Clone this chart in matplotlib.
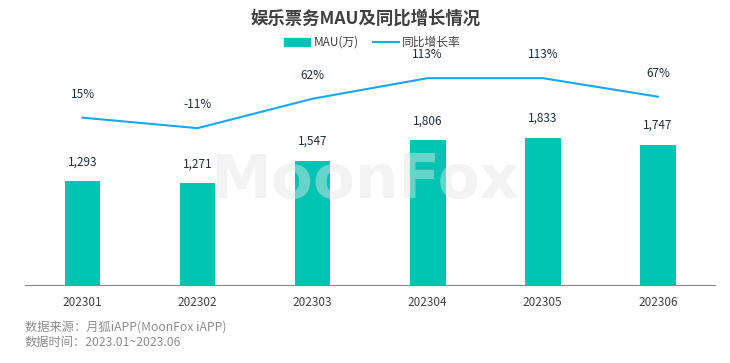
import matplotlib
matplotlib.use('Agg')
import matplotlib.pyplot as plt
from matplotlib.lines import Line2D
from matplotlib.patches import Patch

plt.rcParams['font.family'] = ['Noto Sans CJK SC', 'DejaVu Sans']

months = ['202301', '202302', '202303', '202304', '202305', '202306']
mau = [1293, 1271, 1547, 1806, 1833, 1747]
growth = [15, -11, 62, 113, 113, 67]

bar_color = '#00C4B3'
line_color = '#1AA7EC'
label_color = '#1F2D3D'

fig = plt.figure(figsize=(7.3, 3.63), dpi=100)
ax = fig.add_axes([0.0342, 0.2149, 0.9458, 0.6198])
x = range(len(months))
ax.bar(x, mau, width=0.31, color=bar_color, zorder=2)
for i, v in enumerate(mau):
    ax.annotate(f'{v:,}', (i, v), xytext=(0, 9), textcoords='offset points',
                ha='center', va='bottom', fontsize=8.5, color=label_color)
ax.set_xlim(-0.5, len(months) - 0.5)
ax.set_ylim(0, 2798)
ax.set_xticks(list(x))
ax.set_xticklabels(months, fontsize=8.5, color='#404040')
ax.tick_params(axis='x', length=0, pad=8)
ax.set_yticks([])
for s in ['top', 'right', 'left']:
    ax.spines[s].set_visible(False)
ax.spines['bottom'].set_color('#888888')

ax2 = ax.twinx()
ax2.plot(x, growth, color=line_color, lw=1.5, zorder=3)
for i, v in enumerate(growth):
    ax2.annotate(f'{v}%', (i, v), xytext=(0, 12), textcoords='offset points',
                 ha='center', va='bottom', fontsize=8.5, color=label_color)
ax2.set_ylim(-400, 158)
ax2.set_yticks([])
for s in ['top', 'right', 'left', 'bottom']:
    ax2.spines[s].set_visible(False)

# watermark, drawn over the bars
fig.text(0.5, 0.5, 'MoonFox', fontsize=44, fontweight='bold', color='#e6e6e6',
         alpha=0.45, ha='center', va='center', family='DejaVu Sans', zorder=10)

fig.text(0.5, 0.95, '娱乐票务MAU及同比增长情况', ha='center', va='center',
         fontsize=12.5, fontweight='bold', color='#404040')

handles = [Patch(color=bar_color), Line2D([0], [0], color=line_color, lw=1.5)]
fig.legend(handles, ['MAU(万)', '同比增长率'], loc='center', bbox_to_anchor=(0.51, 0.883),
           ncol=2, frameon=False, fontsize=8.5, handlelength=2.2, handleheight=0.6,
           columnspacing=1.2, handletextpad=0.3, labelcolor='#404040')

fig.text(0.034, 0.098, '数据来源：月狐iAPP(MoonFox iAPP)', fontsize=8.8, style='italic',
         color='#8c8c8c', va='center')
fig.text(0.034, 0.057, '数据时间：2023.01~2023.06', fontsize=8.8, style='italic',
         color='#8c8c8c', va='center')

fig.savefig('out.png', dpi=100)
